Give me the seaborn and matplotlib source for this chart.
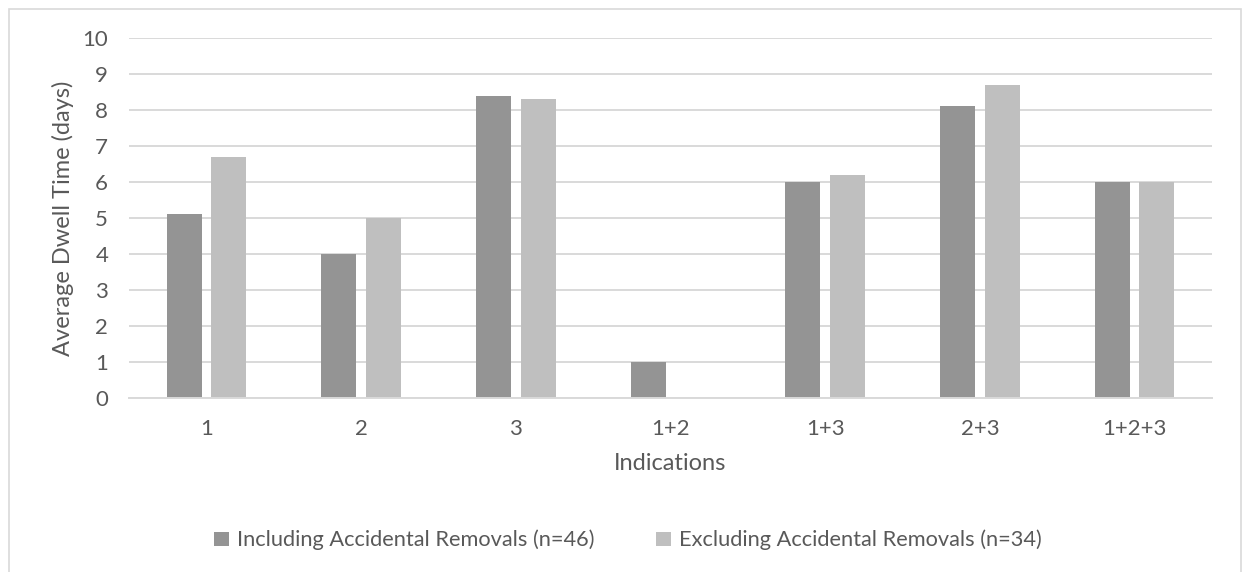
import matplotlib
matplotlib.use("Agg")
import matplotlib.pyplot as plt
import seaborn as sns
import pandas as pd
from matplotlib.patches import Rectangle

categories = ["1", "2", "3", "1+2", "1+3", "2+3", "1+2+3"]
including = [5.1, 4.0, 8.4, 1.0, 6.0, 8.1, 6.0]
excluding = [6.7, 5.0, 8.3, 0.0, 6.2, 8.7, 6.0]
series_names = ["Including Accidental Removals (n=46)",
                "Excluding Accidental Removals (n=34)"]
y_ticks = [0, 1, 2, 3, 4, 5, 6, 7, 8, 9, 10]

df = pd.DataFrame({
    "Indications": categories * 2,
    "value": including + excluding,
    "series": [series_names[0]] * len(categories) + [series_names[1]] * len(categories),
})

sns.set_theme(style="white")
plt.rcParams["font.family"] = ["Lato", "DejaVu Sans"]
text_color = "#595959"
grid_color = "#d9d9d9"

W, H = 1243, 572
fig = plt.figure(figsize=(W / 100, H / 100), dpi=100)
fig.patch.set_facecolor("white")
ax = fig.add_axes([129 / W, 1 - 398 / H, (1212 - 129) / W, (398 - 38) / H])

sns.barplot(data=df, x="Indications", y="value", hue="series",
            order=categories, hue_order=series_names,
            palette=["#949494", "#bfbfbf"], width=0.576, gap=0.215,
            saturation=1, linewidth=0, ax=ax, legend=True)

ax.set_ylim(0, 10)
ax.set_xlim(-0.5, len(categories) - 0.5)
ax.set_yticks(y_ticks)
ax.yaxis.grid(True, color=grid_color, linewidth=1.4)
ax.set_axisbelow(True)
for side in ["left", "right", "top"]:
    ax.spines[side].set_visible(False)
ax.spines["bottom"].set_color(grid_color)
ax.spines["bottom"].set_linewidth(1.4)
ax.tick_params(axis="both", length=0, labelsize=16, labelcolor=text_color)
ax.tick_params(axis="y", pad=15)
ax.tick_params(axis="x", pad=15)
ax.set_ylabel("Average Dwell Time (days)", fontsize=17, color=text_color, labelpad=6)
ax.set_xlabel("Indications", fontsize=17, color=text_color, labelpad=10)

handles, labels = ax.get_legend_handles_labels()
ax.legend_.remove()
fig.legend(handles, labels, loc="center", bbox_to_anchor=(628 / W, 1 - 540 / H),
           ncol=2, frameon=False, fontsize=15.7, labelcolor=text_color,
           handlelength=0.68, handleheight=0.62, handletextpad=0.37,
           columnspacing=2.8)

fig.add_artist(Rectangle((9 / W, -0.05), (1241 - 9) / W, 1.05 - 9 / H,
                         transform=fig.transFigure, fill=False,
                         edgecolor=grid_color, linewidth=1.2))

fig.savefig("out.png", dpi=100)
